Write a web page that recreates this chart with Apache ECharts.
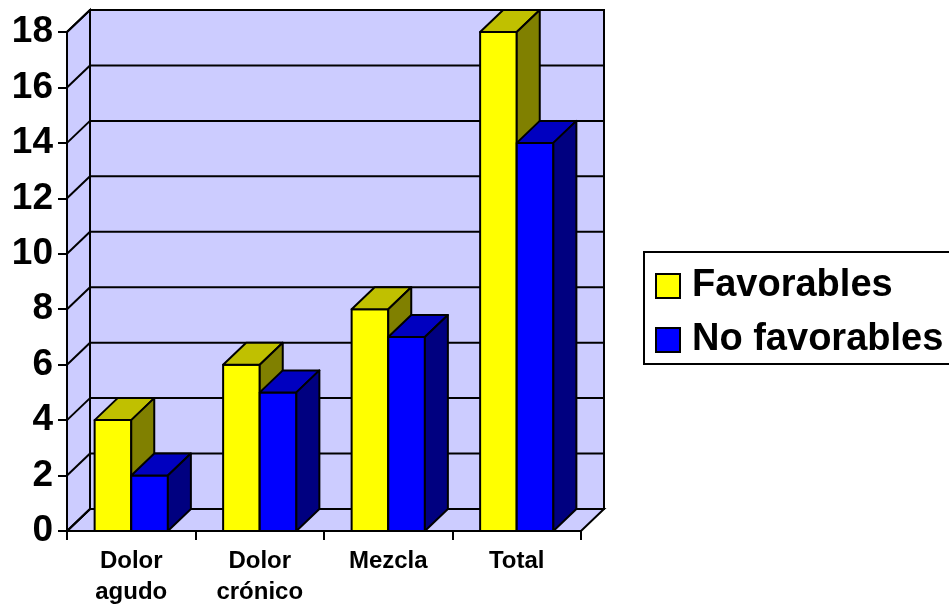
<!DOCTYPE html>
<html>
<head>
<meta charset="utf-8">
<script src="https://cdn.jsdelivr.net/npm/echarts@6/dist/echarts.min.js"></script>
<style>
  html, body { margin: 0; padding: 0; background: #fff; }
  #chart { width: 949px; height: 608px; }
</style>
</head>
<body>
<div id="chart"></div>
<script>
// datos
const categories = ['Dolor\nagudo', 'Dolor\ncrónico', 'Mezcla', 'Total']
const favorables = [4, 6, 8, 18]
const noFavorables = [2, 5, 7, 14]
const yTicks = [0, 2, 4, 6, 8, 10, 12, 14, 16, 18]

// profundidad del efecto 3D (px)
const DX = 23
const DY = -22
const LAVENDER = '#ccccff'

const myChart = echarts.init(document.getElementById('chart'))

function renderWalls(params, api) {
  const band = api.size([1, 0])[0]
  const x0 = api.coord([0, 0])[0] - band / 2
  const x1 = x0 + band * categories.length
  const yb = api.coord([0, 0])[1]
  const yt = api.coord([0, yTicks[yTicks.length - 1]])[1]
  const line = { stroke: '#000', lineWidth: 2 }
  const children = [
    { type: 'rect', shape: { x: x0 + DX, y: yt + DY, width: x1 - x0, height: yb - yt }, style: { fill: LAVENDER, stroke: '#000', lineWidth: 2 } },
    { type: 'polygon', shape: { points: [[x0, yb], [x1, yb], [x1 + DX, yb + DY], [x0 + DX, yb + DY]] }, style: { fill: LAVENDER, stroke: '#000', lineWidth: 2 } },
    { type: 'polygon', shape: { points: [[x0, yb], [x0, yt], [x0 + DX, yt + DY], [x0 + DX, yb + DY]] }, style: { fill: LAVENDER, stroke: '#000', lineWidth: 2 } }
  ]
  yTicks.forEach(function(t) {
    const y = api.coord([0, t])[1]
    children.push({ type: 'line', shape: { x1: x0 + DX, y1: y + DY, x2: x1 + DX, y2: y + DY }, style: line })
    children.push({ type: 'line', shape: { x1: x0, y1: y, x2: x0 + DX, y2: y + DY }, style: line })
  })
  return { type: 'group', children: children }
}

function makeBarRenderer(slot, front, top, side) {
  return function(params, api) {
    const cat = api.value(0)
    const v = api.value(1)
    const base = api.coord([cat, 0])
    const tip = api.coord([cat, v])
    const band = api.size([1, 0])[0]
    const w = band * 0.285
    const xl = base[0] - w + slot * w
    const xr = xl + w
    const st = { stroke: '#000', lineWidth: 2, lineJoin: 'round' }
    return {
      type: 'group',
      children: [
        { type: 'rect', shape: { x: xl, y: tip[1], width: w, height: base[1] - tip[1] }, style: Object.assign({ fill: front }, st) },
        { type: 'polygon', shape: { points: [[xl, tip[1]], [xr, tip[1]], [xr + DX, tip[1] + DY], [xl + DX, tip[1] + DY]] }, style: Object.assign({ fill: top }, st) },
        { type: 'polygon', shape: { points: [[xr, tip[1]], [xr + DX, tip[1] + DY], [xr + DX, base[1] + DY], [xr, base[1]]] }, style: Object.assign({ fill: side }, st) }
      ]
    }
  }
}

const option = {
  backgroundColor: '#fff',
  animation: false,
  grid: { left: 67, top: 32, width: 514, height: 500 },
  legend: {
    orient: 'vertical',
    left: 644,
    top: 252,
    padding: [14, 30, 4, 11],
    itemGap: 14,
    itemWidth: 24,
    itemHeight: 24,
    borderColor: '#000',
    borderWidth: 2,
    borderRadius: 0,
    textStyle: { fontFamily: 'Liberation Sans', fontWeight: 'bold', fontSize: 38, lineHeight: 40, color: '#000', padding: [0, 0, 0, 7] },
    data: [
      { name: 'Favorables', icon: 'rect', itemStyle: { color: '#ffff00', borderColor: '#000', borderWidth: 2 } },
      { name: 'No favorables', icon: 'rect', itemStyle: { color: '#0000ff', borderColor: '#000', borderWidth: 2 } }
    ]
  },
  xAxis: {
    type: 'category',
    data: categories,
    axisLine: { lineStyle: { color: '#000', width: 2 } },
    axisTick: { show: true, length: 9, lineStyle: { color: '#000', width: 2 } },
    axisLabel: { fontFamily: 'Liberation Sans', fontWeight: 'bold', fontSize: 24, color: '#000', lineHeight: 31, margin: 15, interval: 0 },
    splitLine: { show: false }
  },
  yAxis: {
    type: 'value',
    min: 0,
    max: 18,
    interval: 2,
    axisLine: { show: true, lineStyle: { color: '#000', width: 2 } },
    axisTick: { show: true, length: 9, lineStyle: { color: '#000', width: 2 } },
    axisLabel: { fontFamily: 'Liberation Sans', fontWeight: 'bold', fontSize: 37, color: '#000', margin: 14 },
    splitLine: { show: false }
  },
  series: [
    {
      name: 'walls',
      type: 'custom',
      z: 1,
      silent: true,
      renderItem: renderWalls,
      data: [[0, 0]]
    },
    {
      name: 'Favorables',
      type: 'custom',
      z: 3,
      itemStyle: { color: '#ffff00' },
      renderItem: makeBarRenderer(0, '#ffff00', '#c0c000', '#808000'),
      encode: { x: 0, y: 1 },
      data: favorables.map(function(v, i) { return [i, v] })
    },
    {
      name: 'No favorables',
      type: 'custom',
      z: 3,
      itemStyle: { color: '#0000ff' },
      renderItem: makeBarRenderer(1, '#0000ff', '#0000c0', '#000080'),
      encode: { x: 0, y: 1 },
      data: noFavorables.map(function(v, i) { return [i, v] })
    }
  ]
}

option && myChart.setOption(option)
</script>
</body>
</html>
